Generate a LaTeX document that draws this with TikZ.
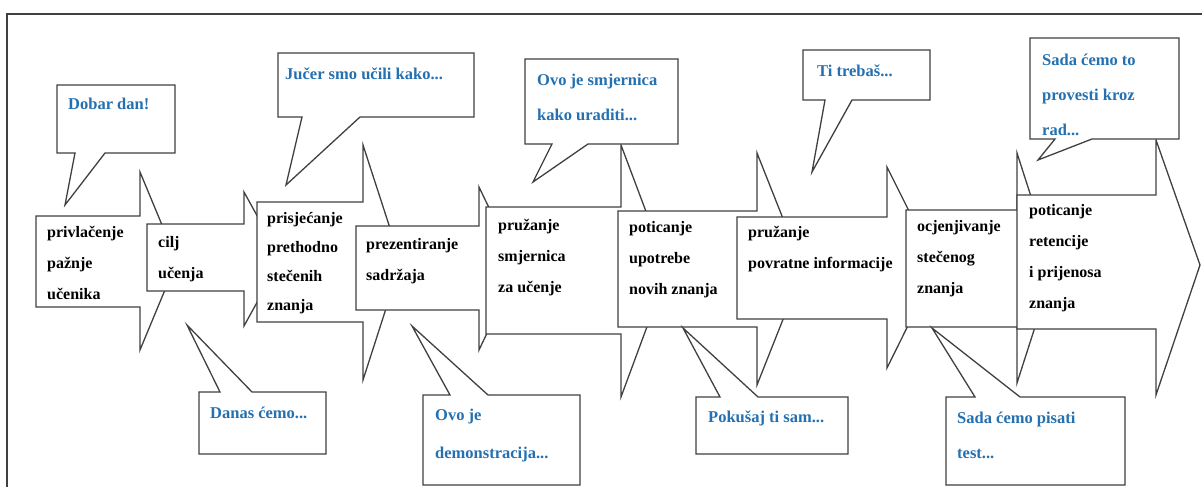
\documentclass[tikz,border=0pt]{standalone}
\usepackage{fontspec}
\setmainfont{Liberation Serif}
\definecolor{talkblue}{RGB}{36, 112, 176}
\definecolor{edgegray}{RGB}{64, 64, 64}

\begin{document}
\begin{tikzpicture}[x=1pt, y=-1pt,
    stepshape/.style={draw=edgegray, fill=white, line width=1.3pt},
    talkshape/.style={draw=edgegray, fill=white, line width=1.3pt},
    steptext/.style={anchor=base west, align=left, inner sep=0pt, font=\fontsize{16}{31}\selectfont\bfseries},
    talktext/.style={anchor=base west, align=left, inner sep=0pt, text=talkblue, font=\fontsize{16.5}{35}\selectfont\bfseries}]
  \useasboundingbox (0,0) rectangle (1202,487);
  \draw[edgegray, line width=1.3pt] (7,487) -- (7,14) -- (1202,14);

  % steps: left/top/bottom/shoulder x/head top/head bottom/tip x/tip y
  \foreach \xl/\yt/\yb/\xr/\yht/\yhb/\xt/\yc in {36/216/307/140/172/350/177/261,
      147/224/291/244/192/326/281/259, 257/202/322/363/145/380/401/262,
      356/226/310/479/187/350/518/268, 486/207/334/621/145/397/668/270,
      618/211/327/757/153/385/803/269, 737/217/319/887/167/368/937/267,
      906/210/327/1017/153/383/1054/268, 1017/195/329/1156/140/395/1200/265}
    \draw[stepshape] (\xl,\yt) -- (\xr,\yt) -- (\xr,\yht) -- (\xt,\yc)
      -- (\xr,\yhb) -- (\xr,\yb) -- (\xl,\yb) -- cycle;

  % speech bubbles above (pointer on the lower edge)
  \foreach \xa/\ya/\xb/\yb/\pa/\pb/\tx/\ty in {57/85/175/153/75/105/65/205,
      278/53/474/117/302/360/286/185, 525/59/678/144/552/588/533/182,
      803/50/930/100/825/852/812/172, 1030/38/1179/139/1055/1092/1038/160}
    \draw[talkshape] (\xa,\ya) -- (\xb,\ya) -- (\xb,\yb) -- (\pb,\yb)
      -- (\tx,\ty) -- (\pa,\yb) -- (\xa,\yb) -- cycle;

  % speech bubbles below (pointer on the upper edge)
  \foreach \xa/\ya/\xb/\yb/\pa/\pb/\tx/\ty in {199/392/326/454/220/252/187/325,
      423/395/580/485/450/488/412/326, 696/397/848/454/720/758/683/328,
      946/397/1125/485/975/1020/932/328}
    \draw[talkshape] (\xa,\ya) -- (\pa,\ya) -- (\tx,\ty) -- (\pb,\ya)
      -- (\xb,\ya) -- (\xb,\yb) -- (\xa,\yb) -- cycle;

  % texts sit on the baseline of their last line
  \node[steptext] (s1) at (47,299) {privlačenje\\pažnje\\učenika};
  \node[steptext] (s2) at (158,278) {cilj\\učenja};
  \node[steptext, font=\fontsize{16}{29}\selectfont\bfseries] (s3) at (267,310) {prisjećanje\\prethodno\\stečenih\\znanja};
  \node[steptext] (s4) at (366,280) {prezentiranje\\sadržaja};
  \node[steptext] (s5) at (498,292) {pružanje\\smjernica\\za učenje};
  \node[steptext] (s6) at (629,294) {poticanje\\upotrebe\\novih znanja};
  \node[steptext] (s7) at (748,268) {pružanje\\povratne informacije};
  \node[steptext] (s8) at (917,293) {ocjenjivanje\\stečenog\\znanja};
  \node[steptext] (s9) at (1029,308) {poticanje\\retencije\\i prijenosa\\znanja};

  \node[talktext] (t1) at (68,110) {Dobar dan!};
  \node[talktext] (t2) at (285,80) {Jučer smo učili kako...};
  \node[talktext] (t3) at (537,120) {Ovo je smjernica\\kako uraditi...};
  \node[talktext] (t4) at (817,77) {Ti trebaš...};
  \node[talktext] (t5) at (1042,135) {Sada ćemo to\\provesti kroz\\rad...};
  \node[talktext] (t6) at (210,418) {Danas ćemo...};
  \node[talktext, font=\fontsize{16.5}{38}\selectfont\bfseries] (t7) at (435,458) {Ovo je\\demonstracija...};
  \node[talktext] (t8) at (708,422) {Pokušaj ti sam...};
  \node[talktext] (t9) at (957,458) {Sada ćemo pisati\\test...};
\end{tikzpicture}
\end{document}
